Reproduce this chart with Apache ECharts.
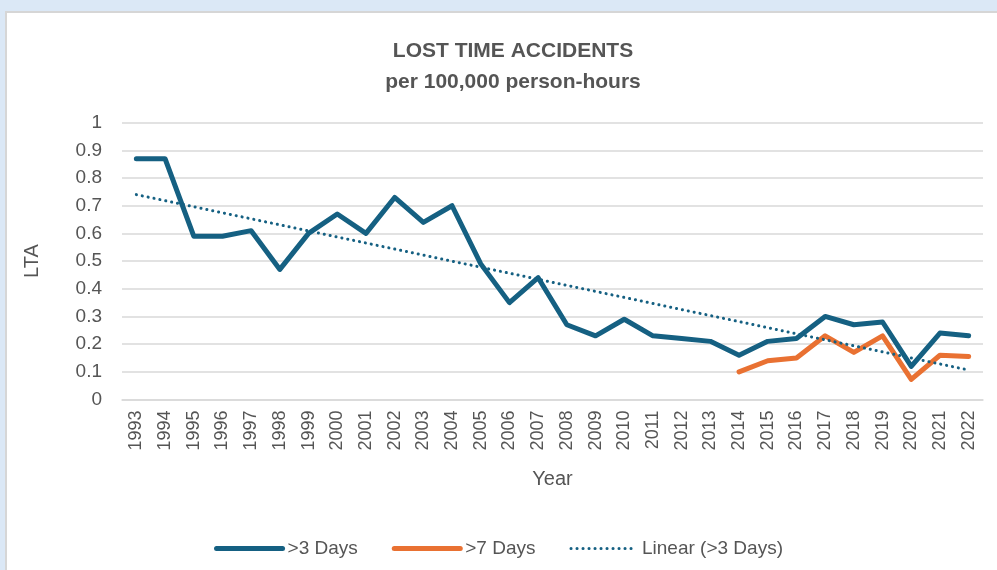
<!DOCTYPE html>
<html>
<head>
<meta charset="utf-8">
<script src="https://cdn.jsdelivr.net/npm/echarts@6/dist/echarts.min.js"></script>
<style>
html,body{margin:0;padding:0;width:997px;height:570px;background:#dbe8f6;overflow:hidden;}
#card{position:absolute;left:5px;top:11px;right:0;bottom:0;background:#fff;border-left:2px solid #d6d6d6;border-top:2px solid #d6d6d6;}
#chart{position:absolute;left:0;top:0;width:997px;height:570px;}
</style>
</head>
<body>
<div id="card"></div>
<div id="chart"></div>
<script>
const years = ['1993','1994','1995','1996','1997','1998','1999','2000','2001','2002','2003','2004','2005','2006','2007','2008','2009','2010','2011','2012','2013','2014','2015','2016','2017','2018','2019','2020','2021','2022'];
const over3Days = [0.87,0.87,0.59,0.59,0.61,0.47,0.60,0.67,0.60,0.73,0.64,0.70,0.49,0.35,0.44,0.27,0.23,0.29,0.23,0.22,0.21,0.16,0.21,0.22,0.30,0.27,0.28,0.12,0.24,0.23];
const over7Days = [null,null,null,null,null,null,null,null,null,null,null,null,null,null,null,null,null,null,null,null,null,0.10,0.14,0.15,0.23,0.17,0.23,0.073,0.16,0.155];
const yTicks = [0,0.1,0.2,0.3,0.4,0.5,0.6,0.7,0.8,0.9,1];

// Linear trend (least squares) of >3 Days, as Excel's trendline
const n = over3Days.length;
let sx=0, sy=0, sxy=0, sxx=0;
over3Days.forEach((v,i)=>{sx+=i;sy+=v;sxy+=i*v;sxx+=i*i;});
const slope = (n*sxy - sx*sy)/(n*sxx - sx*sx);
const icpt = (sy - slope*sx)/n;
const trend = over3Days.map((v,i)=>+(icpt + slope*i).toFixed(4));

const gray = '#555555';
const font = 'Liberation Sans, Arial, sans-serif';
const chart = echarts.init(document.getElementById('chart'), null, {renderer:'canvas'});
chart.setOption({
  backgroundColor: 'transparent',
  animation: false,
  title: [
    {text:'LOST TIME ACCIDENTS', left:508, top:36, textAlign:'center',
     textStyle:{fontFamily:font, fontWeight:'bold', fontSize:21, color:gray}},
    {text:'per 100,000 person-hours', left:508, top:67, textAlign:'center',
     textStyle:{fontFamily:font, fontWeight:'bold', fontSize:21, color:gray}}
  ],
  grid: {left:122, right:14, top:122.7, bottom:170.5, containLabel:false},
  legend: {
    left:'center', top:534, itemWidth:66, itemHeight:14, itemGap:34,
    itemStyle:{opacity:0},
    textStyle:{fontFamily:font, fontSize:19, color:gray},
    data:[
      {name:'>3 Days', lineStyle:{width:5, cap:'round'}},
      {name:'>7 Days', lineStyle:{width:5, cap:'round'}},
      {name:'Linear (>3 Days)', lineStyle:{width:3, type:[0.1,5.9], cap:'round'}}
    ]
  },
  xAxis: {
    type:'category', data:years, boundaryGap:true,
    name:'Year', nameLocation:'middle', nameGap:70,
    nameTextStyle:{fontFamily:font, fontSize:20, color:gray},
    axisLine:{lineStyle:{color:'#d9d9d9', width:1.5}},
    axisTick:{show:false},
    axisLabel:{rotate:90, margin:11, interval:0, fontFamily:font, fontSize:18, color:gray}
  },
  yAxis: {
    type:'value', min:0, max:1, interval:0.1,
    name:'LTA', nameLocation:'middle', nameGap:80,
    nameTextStyle:{fontFamily:font, fontSize:20, color:gray},
    axisLine:{show:false}, axisTick:{show:false},
    splitLine:{lineStyle:{color:'#d9d9d9', width:1.5}},
    axisLabel:{margin:20, fontFamily:font, fontSize:19, color:gray,
      formatter:(v)=>String(+v.toFixed(1))}
  },
  series: [
    {name:'>3 Days', type:'line', data:over3Days, symbol:'none', z:3,
     lineStyle:{color:'#156082', width:5, cap:'round', join:'round'}, itemStyle:{color:'#156082'}},
    {name:'>7 Days', type:'line', data:over7Days, symbol:'none', z:2,
     lineStyle:{color:'#e97132', width:5, cap:'round', join:'round'}, itemStyle:{color:'#e97132'}},
    {name:'Linear (>3 Days)', type:'line', data:trend, symbol:'none', z:4,
     lineStyle:{color:'#156082', width:3, type:[0.1,5.9], cap:'round'}, itemStyle:{color:'#156082'}}
  ]
});
</script>
</body>
</html>
